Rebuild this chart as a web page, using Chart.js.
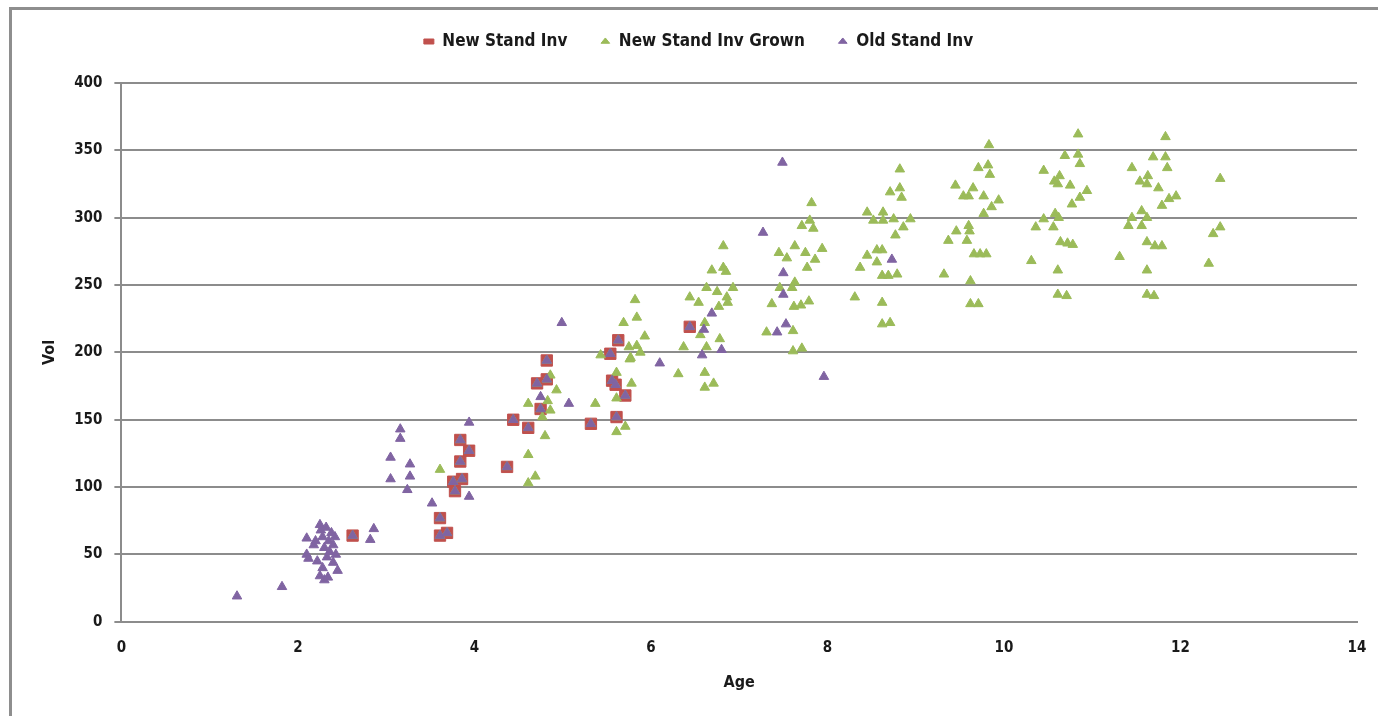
<!DOCTYPE html>
<html>
<head>
<meta charset="utf-8">
<script src="https://cdn.jsdelivr.net/npm/chart.js@4/dist/chart.umd.min.js"></script>
<style>
  html, body { margin: 0; padding: 0; background: #ffffff; }
  #wrap { position: relative; width: 1378px; height: 716px; overflow: hidden; }
  #frame { position: absolute; left: 9px; top: 7px; width: 1500px; height: 900px;
           border: 3px solid #8e8e8e; box-sizing: border-box; pointer-events: none; }
  canvas { position: absolute; left: 0; top: 0; }
</style>
</head>
<body>
<div id="wrap">
  <canvas id="c" width="1378" height="716"></canvas>
  <div id="frame"></div>
</div>
<script>
// Stand inventory: age (years) vs volume
const seriesNames = ['New Stand Inv', 'New Stand Inv Grown', 'Old Stand Inv'];

// New stand inventory plots
const newAge = [2.62, 3.61, 3.61, 3.69, 3.78, 3.76, 3.86, 3.84, 3.94, 3.84,
  4.37, 4.44, 4.61, 4.75, 4.71, 4.82, 4.82, 5.32, 5.61, 5.71,
  5.56, 5.60, 5.54, 5.63, 6.44];
const newVol = [64, 77, 64, 66, 97, 104, 106, 119, 127, 135,
  115, 150, 144, 158, 177, 180, 194, 147, 152, 168,
  179, 176, 199, 209, 219];

// New stand inventory grown forward
const grownAge = [2.62, 3.61, 3.61, 3.69, 3.78, 3.76, 3.86, 3.84, 3.94, 3.84,
  4.37, 4.44, 4.61, 4.75, 4.71, 4.82, 4.82, 5.32, 5.61, 5.71,
  5.56, 5.60, 5.54, 5.63, 6.44,
  3.61,
  4.61, 4.69, 4.61, 4.80, 4.77, 4.86, 4.61, 4.83, 4.93, 4.86,
  5.37, 5.61, 5.71, 5.61, 5.78, 5.61, 5.77, 5.43, 5.75, 5.84, 5.93, 5.69, 5.84, 5.82, 5.88, 5.76,
  6.31, 6.61, 6.61, 6.71, 6.37, 6.63, 6.78, 6.56, 6.61, 6.77, 6.54, 6.87, 6.44, 6.86, 6.75, 6.63, 6.93, 6.69, 6.82, 6.85, 6.82,
  7.31, 7.61, 7.61, 7.71, 7.37, 7.62, 7.70, 7.79, 7.46, 7.60, 7.63, 7.77, 7.86, 7.54, 7.45, 7.75, 7.63, 7.94, 7.71, 7.84, 7.80, 7.82,
  8.31, 8.62, 8.62, 8.71, 8.37, 8.62, 8.69, 8.79, 8.56, 8.45, 8.56, 8.62, 8.77, 8.86, 8.52, 8.63, 8.75, 8.94, 8.45, 8.63, 8.84, 8.71, 8.82, 8.82,
  9.32, 9.62, 9.62, 9.71, 9.66, 9.73, 9.80, 9.37, 9.58, 9.46, 9.61, 9.60, 9.77, 9.86, 9.94, 9.54, 9.60, 9.77, 9.45, 9.65, 9.84, 9.71, 9.82, 9.83,
  10.31, 10.36, 10.61, 10.61, 10.71, 10.64, 10.72, 10.78, 10.56, 10.45, 10.58, 10.62, 10.77, 10.86, 10.94, 10.75, 10.61, 10.57, 10.63, 10.45, 10.86, 10.69, 10.84, 10.84,
  11.31, 11.62, 11.62, 11.70, 11.62, 11.71, 11.79, 11.41, 11.56, 11.45, 11.62, 11.56, 11.79, 11.87, 11.95, 11.75, 11.62, 11.54, 11.63, 11.45, 11.85, 11.69, 11.83, 11.83,
  12.32, 12.37, 12.45, 12.45];
const grownVol = [64, 77, 64, 66, 97, 104, 106, 119, 127, 135,
  115, 150, 144, 158, 177, 180, 194, 147, 152, 168,
  179, 176, 199, 209, 219,
  113,
  103, 108, 124, 138, 152, 157, 162, 164, 172, 183,
  162, 141, 145, 166, 177, 185, 196, 198, 204, 205, 212, 222, 226, 239, 200, 195,
  184, 185, 174, 177, 204, 204, 210, 213, 222, 234, 237, 237, 241, 241, 245, 248, 248, 261, 263, 260, 279,
  215, 216, 201, 203, 236, 234, 235, 238, 248, 248, 252, 263, 269, 270, 274, 274, 279, 277, 294, 292, 298, 311,
  241, 237, 221, 222, 263, 257, 257, 258, 267, 272, 276, 276, 287, 293, 298, 298, 299, 299, 304, 304, 315, 319, 322, 336,
  258, 253, 236, 236, 273, 273, 273, 283, 283, 290, 290, 294, 303, 308, 313, 316, 316, 316, 324, 322, 332, 337, 339, 354,
  268, 293, 261, 243, 242, 282, 281, 280, 293, 299, 303, 300, 310, 315, 320, 324, 325, 327, 331, 335, 340, 346, 347, 362,
  271, 261, 243, 242, 282, 279, 279, 294, 294, 300, 300, 305, 309, 314, 316, 322, 325, 327, 331, 337, 337, 345, 345, 360,
  266, 288, 293, 329];

// Old stand inventory plots
const oldAge = [2.62, 3.61, 3.61, 3.69, 3.78, 3.76, 3.86, 3.84, 3.94, 3.84,
  4.37, 4.44, 4.61, 4.75, 4.71, 4.82, 4.82, 5.32, 5.61, 5.71,
  5.56, 5.60, 5.54, 5.63, 6.44,
  1.31, 1.82,
  2.10, 2.10, 2.12, 2.18, 2.22, 2.25, 2.26, 2.28, 2.30, 2.32, 2.33, 2.35, 2.36, 2.38, 2.40, 2.40, 2.42, 2.43, 2.45, 2.25, 2.30, 2.34, 2.20, 2.28,
  2.82, 2.86, 3.05, 3.05, 3.16, 3.16, 3.24, 3.27, 3.27, 3.52, 3.94, 3.94,
  4.75, 4.99, 5.07, 6.10, 6.58, 6.60, 6.69, 6.80,
  7.27, 7.43, 7.49, 7.50, 7.50, 7.53, 7.96, 8.73];
const oldVol = [64, 77, 64, 66, 97, 104, 106, 119, 127, 135,
  115, 150, 144, 158, 177, 180, 194, 147, 152, 168,
  179, 176, 199, 209, 219,
  19, 26,
  62, 50, 47, 57, 45, 72, 68, 63, 55, 70, 48, 60, 52, 66, 57, 44, 63, 50, 38, 34, 31, 33, 60, 40,
  61, 69, 106, 122, 136, 143, 98, 108, 117, 88, 93, 148,
  167, 222, 162, 192, 198, 217, 229, 202,
  289, 215, 341, 259, 243, 221, 182, 269];

const xTicks = [0, 2, 4, 6, 8, 10, 12, 14];
const yTicks = [0, 50, 100, 150, 200, 250, 300, 350, 400];

const toPoints = (xs, ys) => xs.map((x, i) => ({ x: x, y: ys[i] }));

const FONT = "'Liberation Sans Narrow', 'DejaVu Sans Condensed', 'Liberation Sans', sans-serif";
const GRID = '#8c8c8c';
const TEXT = '#1a1a1a';

// Extra room between the legend row and the plot area
const legendGap = {
  id: 'legendGap',
  beforeInit(chart) {
    const fit = chart.legend.fit;
    chart.legend.fit = function () {
      fit.call(this);
      this.height += 23;
    };
  }
};

new Chart(document.getElementById('c'), {
  type: 'scatter',
  data: {
    datasets: [
      {
        label: seriesNames[0],
        data: toPoints(newAge, newVol),
        pointStyle: 'rect',
        pointRadius: 8,
        backgroundColor: '#C0504D',
        borderColor: '#C0504D',
        borderWidth: 1,
        order: 3
      },
      {
        label: seriesNames[1],
        data: toPoints(grownAge, grownVol),
        pointStyle: 'triangle',
        pointRadius: 5.5,
        backgroundColor: '#9BBB59',
        borderColor: '#9BBB59',
        borderWidth: 1,
        order: 2
      },
      {
        label: seriesNames[2],
        data: toPoints(oldAge, oldVol),
        pointStyle: 'triangle',
        pointRadius: 5.5,
        backgroundColor: '#8064A2',
        borderColor: '#8064A2',
        borderWidth: 1,
        order: 1
      }
    ]
  },
  plugins: [legendGap],
  options: {
    responsive: false,
    animation: false,
    layout: { padding: { left: 40, right: 21, top: 0, bottom: 24 } },
    plugins: {
      tooltip: { enabled: false },
      legend: {
        position: 'top',
        labels: {
          usePointStyle: true,
          pointStyleWidth: 10,
          boxHeight: 5,
          padding: 33,
          color: TEXT,
          sort: (a, b) => a.datasetIndex - b.datasetIndex,
          font: { family: FONT, size: 17, weight: 'bold' }
        }
      }
    },
    scales: {
      x: {
        type: 'linear',
        min: 0, max: 14,
        afterBuildTicks: (s) => { s.ticks = xTicks.map(v => ({ value: v })); },
        grid: { display: false, drawOnChartArea: false, drawTicks: true, tickLength: 6, tickColor: GRID, tickWidth: 2 },
        border: { display: true, color: GRID, width: 2 },
        ticks: { color: TEXT, padding: 11, font: { family: FONT, size: 15, weight: 'bold' } },
        title: { display: true, text: 'Age', color: TEXT, padding: { top: 5, bottom: 0 },
                 font: { family: FONT, size: 16, weight: 'bold' } }
      },
      y: {
        type: 'linear',
        min: 0, max: 400,
        afterBuildTicks: (s) => { s.ticks = yTicks.map(v => ({ value: v })); },
        grid: { color: GRID, lineWidth: 2, drawTicks: true, tickLength: 7, tickColor: GRID, tickWidth: 2 },
        border: { display: true, color: GRID, width: 2 },
        ticks: { color: TEXT, padding: 12, font: { family: FONT, size: 15, weight: 'bold' } },
        title: { display: true, text: 'Vol', color: TEXT, padding: { top: 0, bottom: 3 },
                 font: { family: FONT, size: 16, weight: 'bold' } }
      }
    }
  }
});
</script>
</body>
</html>
